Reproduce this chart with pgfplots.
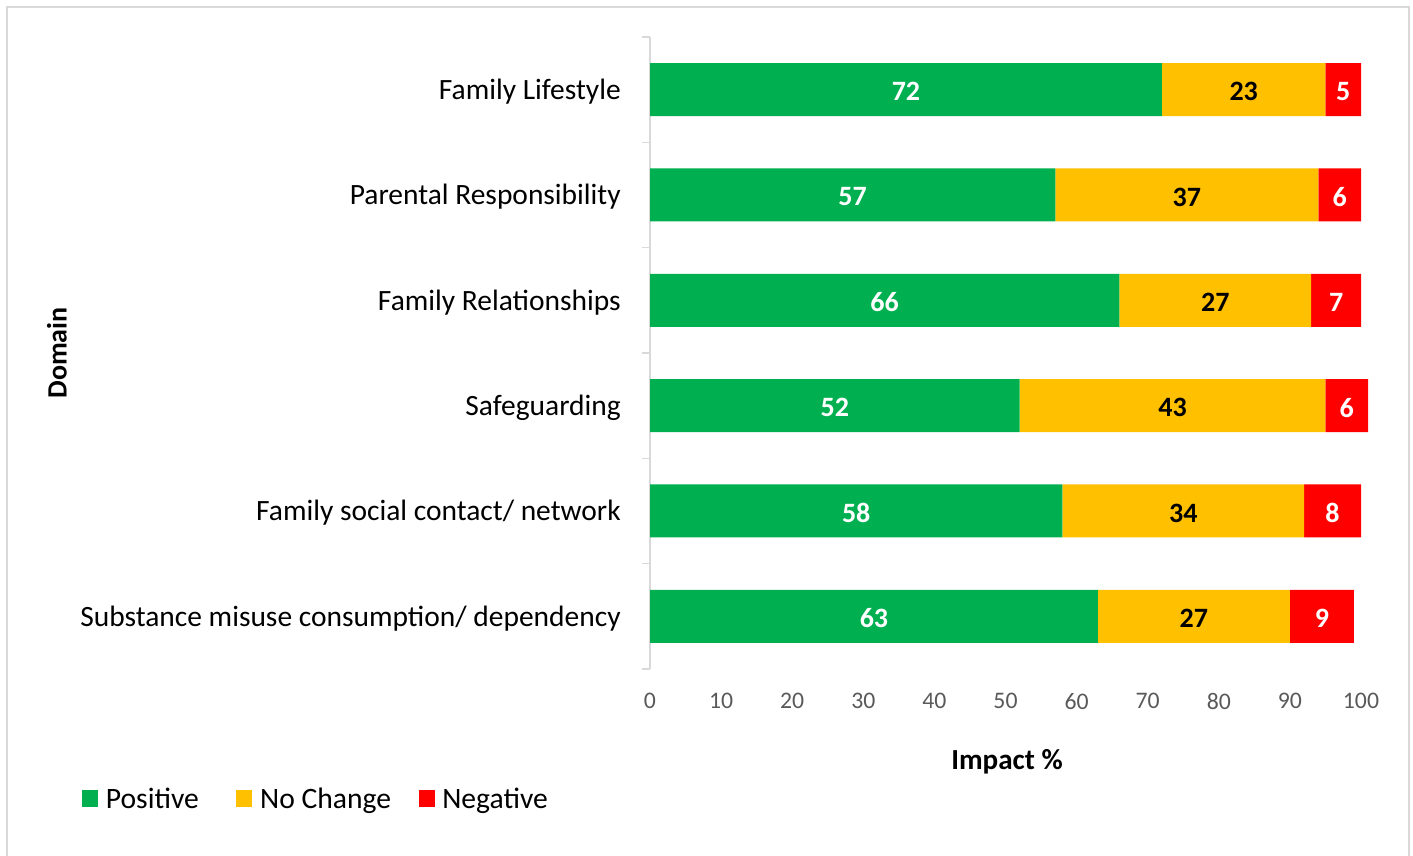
\documentclass[border=0pt]{standalone}
\usepackage{fontspec}
\setmainfont{Carlito}
\usepackage{pgfplots}
\pgfplotsset{compat=1.18}
\definecolor{cPos}{HTML}{00B050}
\definecolor{cNo}{HTML}{FFC000}
\definecolor{cNeg}{HTML}{FF0000}
\definecolor{axgray}{HTML}{D9D9D9}
\definecolor{tickgray}{HTML}{595959}

\begin{document}
\begin{tikzpicture}
\path[use as bounding box] (0,0) rectangle (1059.75pt,642pt);
\draw[axgray, line width=1.2pt] (5.25pt,-10pt) rectangle (1056.75pt,636.75pt);
\begin{axis}[
  at={(487.5pt,140.25pt)}, anchor=south west,
  scale only axis, width=533.25pt, height=474pt,
  xbar stacked, bar width=39.75pt,
  xmin=0, xmax=100, ymin=-0.5, ymax=5.5,
  clip=false,
  axis x line*=bottom, axis y line*=left,
  x axis line style={draw=none},
  y axis line style={axgray, line width=1.2pt, -},
  xtick={0,10,...,100},
  ytick={0,...,5},
  yticklabels={Substance misuse consumption/ dependency, Family social contact/ network, Safeguarding, Family Relationships, Parental Responsibility, Family Lifestyle},
  minor ytick={-0.5,0.5,...,5.5},
  tick align=outside,
  major tick length=0pt, minor tick length=6pt,
  minor y tick style={axgray, line width=1.2pt},
  xtick style={draw=none},
  /pgf/number format/assume math mode=true,
  xticklabel style={font=\fontsize{17.8}{21}\selectfont, text=tickgray, inner sep=0pt, yshift=-18pt},
  yticklabel style={font=\fontsize{22.1}{26}\selectfont, inner sep=0pt, xshift=-21.75pt, yshift=-1.5pt},
  visualization depends on=rawx\as\rawx,
  nodes near coords={\pgfmathprintnumber{\rawx}},
  legend style={draw=none, fill=none, inner sep=0pt, at={(-0.799,-0.2057)}, anchor=west,
    font=\fontsize{22.2}{26}\selectfont, legend columns=3,
    /tikz/every odd column/.append style={column sep=3.75pt},
    /tikz/every even column/.append style={column sep=26.25pt}},
  legend image code/.code={\fill[#1] (0pt,-6pt) rectangle (12pt,6.75pt);},
]
\addplot[fill=cPos, draw=none,
  every node near coord/.append style={anchor=center, yshift=-1.5pt, text=white, font=\bfseries\fontsize{21}{25}\selectfont}]
  coordinates {(63,0) (58,1) (52,2) (66,3) (57,4) (72,5)};
\addplot[fill=cNo, draw=none,
  every node near coord/.append style={anchor=center, yshift=-1.5pt, text=black, font=\bfseries\fontsize{21}{25}\selectfont}]
  coordinates {(27,0) (34,1) (43,2) (27,3) (37,4) (23,5)};
\addplot[fill=cNeg, draw=none,
  every node near coord/.append style={anchor=center, yshift=-1.5pt, text=white, font=\bfseries\fontsize{21}{25}\selectfont}]
  coordinates {(9,0) (8,1) (6,2) (7,3) (6,4) (5,5)};
\legend{Positive, No Change\kern-7.5pt, Negative}
\end{axis}
\node[font=\bfseries\fontsize{21.8}{26}\selectfont] at (755.25pt,70.5pt) {Impact \%};
\node[font=\bfseries\fontsize{21}{25}\selectfont, rotate=90] at (42.75pt,377.25pt) {Domain};
\end{tikzpicture}
\end{document}
